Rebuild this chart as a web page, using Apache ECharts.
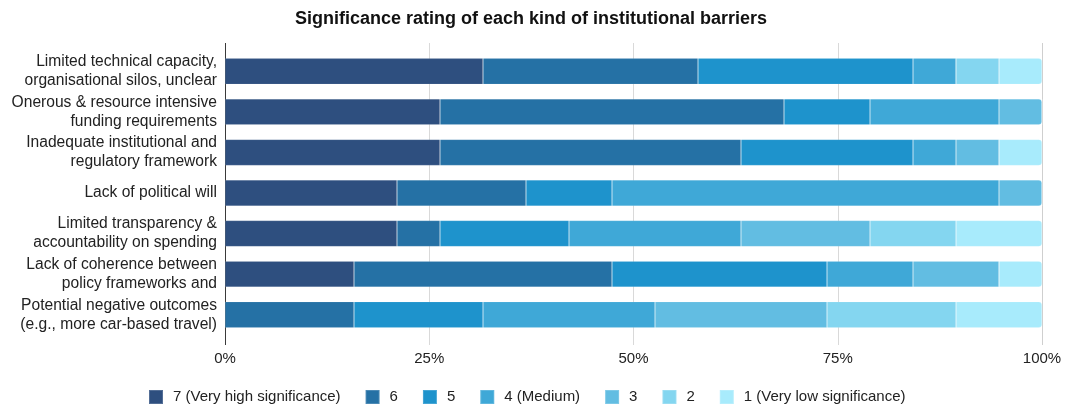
<!DOCTYPE html>
<html>
<head>
<meta charset="utf-8">
<script src="https://cdn.jsdelivr.net/npm/echarts@6/dist/echarts.min.js"></script>
<style>
  html, body { margin: 0; padding: 0; background: #fff; }
  #chart { width: 1068px; height: 404px; }
</style>
</head>
<body>
<div id="chart"></div>
<script>
// Barriers, top to bottom
const categories = [
  'Limited technical capacity,\norganisational silos, unclear',
  'Onerous & resource intensive\nfunding requirements',
  'Inadequate institutional and\nregulatory framework',
  'Lack of political will',
  'Limited transparency &\naccountability on spending',
  'Lack of coherence between\npolicy frameworks and',
  'Potential negative outcomes\n(e.g., more car-based travel)'
];

// Rating levels (legend order)
const ratings = ['7 (Very high significance)', '6', '5', '4 (Medium)', '3', '2', '1 (Very low significance)'];
const colors = ['#2e4f7f', '#2571a5', '#1e93cc', '#3fa8d7', '#62bde2', '#84d6f0', '#a8ebfc'];

// Number of responses per rating, one array per barrier (same order as categories)
const r7 = [6, 5, 5, 4, 4, 3, 0];
const r6 = [5, 8, 7, 3, 1, 6, 3];
const r5 = [5, 2, 4, 2, 3, 5, 3];
const r4 = [1, 3, 1, 9, 4, 2, 4];
const r3 = [0, 1, 1, 1, 3, 2, 4];
const r2 = [1, 0, 0, 0, 2, 0, 3];
const r1 = [1, 0, 1, 0, 2, 1, 2];

const xTicks = [0, 25, 50, 75, 100];

const counts = [r7, r6, r5, r4, r3, r2, r1];
const totals = categories.map((_, i) => counts.reduce((s, arr) => s + arr[i], 0));

// index of the last non-empty segment of each bar (gets the rounded end)
const lastSeg = categories.map((_, i) => {
  let k = -1;
  counts.forEach((arr, j) => { if (arr[i] > 0) k = j; });
  return k;
});

const series = ratings.map((name, j) => ({
  name,
  type: 'bar',
  stack: 'total',
  xAxisIndex: 0,
  yAxisIndex: 0,
  barWidth: 26,
  itemStyle: { color: colors[j], borderColor: 'rgba(255,255,255,0.18)', borderWidth: 0.6 },
  emphasis: { disabled: true },
  data: counts[j].map((v, i) => {
    const item = { value: v / totals[i] * 100 };
    if (lastSeg[i] === j) item.itemStyle = { borderRadius: [0, 3, 3, 0] };
    return item;
  })
}));

const font = "'Liberation Sans', Arial, sans-serif";
const chart = echarts.init(document.getElementById('chart'), null, { renderer: 'canvas' });

chart.setOption({
  animation: false,
  textStyle: { fontFamily: font },
  title: {
    text: 'Significance rating of each kind of institutional barriers',
    left: 526,
    textAlign: 'center',
    top: 5,
    textStyle: { fontSize: 18, fontWeight: 'bold', color: '#111', fontFamily: font }
  },
  legend: {
    left: 143,
    top: 384,
    itemWidth: 14,
    itemHeight: 14,
    itemGap: 24,
    icon: 'rect',
    textStyle: { fontSize: 15, color: '#222', fontFamily: font, padding: [0, 0, 0, 5] },
    data: ratings
  },
  grid: [
    { left: 225, right: 26, top: 51, height: 284 },
    { left: 225, right: 26, top: 43, height: 302 }
  ],
  xAxis: [
    {
      gridIndex: 0, type: 'value', min: 0, max: 100,
      axisLine: { show: false }, axisTick: { show: false },
      axisLabel: { show: false }, splitLine: { show: false }
    },
    {
      gridIndex: 1, type: 'value', min: 0, max: 100, interval: 25,
      axisLine: { show: false }, axisTick: { show: false },
      axisLabel: {
        fontSize: 15, color: '#222', margin: 6, fontFamily: font,
        formatter: v => xTicks.includes(v) ? v + '%' : ''
      },
      splitLine: {
        show: true,
        lineStyle: {
          width: 1,
          color: ['#3a3a3a', '#d9d9d9', '#d9d9d9', '#d9d9d9', '#cfcfcf']
        }
      }
    }
  ],
  yAxis: [
    {
      gridIndex: 0, type: 'category', inverse: true, data: categories,
      axisLine: { show: false }, axisTick: { show: false },
      axisLabel: { fontSize: 15.6, color: '#222', margin: 8, lineHeight: 19, align: 'right', fontFamily: font }
    },
    {
      gridIndex: 1, type: 'value', show: false
    }
  ],
  series
});
</script>
</body>
</html>
